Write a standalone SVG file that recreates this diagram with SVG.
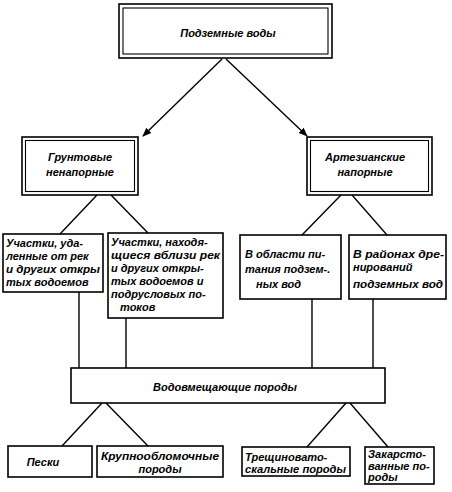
<svg xmlns="http://www.w3.org/2000/svg" width="452" height="492" viewBox="0 0 452 492">
<style>
.b{fill:none;stroke:#000;stroke-width:1.6}
.bi{fill:none;stroke:#000;stroke-width:1.1}
.l{stroke:#000;stroke-width:1.4;fill:none}
text{font-family:"Liberation Sans",Arial,sans-serif;font-style:italic;font-weight:bold;font-size:11px;fill:#000}
.c{text-anchor:middle}
</style>
<defs>
<marker id="ah" viewBox="0 0 10 10" refX="9" refY="5" markerWidth="9" markerHeight="9" markerUnits="userSpaceOnUse" orient="auto">
<path d="M0,1 L10,5 L0,9 Z" fill="#000"/>
</marker>
</defs>
<rect width="452" height="492" fill="#fff"/>
<g id="connectors">
<line class="l" x1="222" y1="59" x2="143" y2="136" marker-end="url(#ah)"/>
<line class="l" x1="226" y1="59" x2="307" y2="136" marker-end="url(#ah)"/>
<line class="l" x1="97" y1="195" x2="60" y2="234"/>
<line class="l" x1="111" y1="195" x2="148" y2="233"/>
<line class="l" x1="341" y1="195" x2="302" y2="235"/>
<line class="l" x1="352" y1="195" x2="387" y2="235"/>
<line class="l" x1="79" y1="292" x2="79" y2="368"/>
<line class="l" x1="126" y1="318" x2="126" y2="368"/>
<line class="l" x1="312" y1="299" x2="312" y2="368"/>
<line class="l" x1="373" y1="299" x2="373" y2="368"/>
<line class="l" x1="102" y1="403" x2="62" y2="446"/>
<line class="l" x1="106" y1="403" x2="148" y2="446"/>
<line class="l" x1="346" y1="403" x2="307" y2="447"/>
<line class="l" x1="350" y1="403" x2="388" y2="447"/>
</g>
<g id="podzemnye">
<rect class="b" x="119" y="4" width="213" height="54"/>
<rect class="bi" x="123" y="8" width="205" height="46"/>
<text class="c" x="228" y="37">Подземные  воды</text>
</g>
<g id="gruntovye">
<rect class="b" x="22" y="137" width="116" height="58"/>
<rect class="bi" x="25.5" y="140.5" width="109" height="51"/>
<text class="c" x="80" y="161">Грунтовые</text>
<text class="c" x="80" y="176">ненапорные</text>
</g>
<g id="artezianskie">
<rect class="b" x="307" y="137" width="125" height="58"/>
<rect class="bi" x="310.5" y="140.5" width="118" height="51"/>
<text class="c" x="365" y="161">Артезианские</text>
<text class="c" x="365" y="176">напорные</text>
</g>
<g id="uchastki1">
<rect class="b" x="3" y="234" width="100" height="58"/>
<text x="6" y="247">Участки, уда-</text>
<text x="6" y="260">ленные от рек</text>
<text x="6" y="273" textLength="94" lengthAdjust="spacingAndGlyphs">и других откры</text>
<text x="6" y="286">тых водоемов</text>
</g>
<g id="uchastki2">
<rect class="b" x="108" y="233" width="115" height="85"/>
<text x="111" y="246">Участки, находя-</text>
<text x="111" y="259" textLength="109" lengthAdjust="spacingAndGlyphs">щиеся вблизи рек</text>
<text x="111" y="272">и других откры-</text>
<text x="111" y="285">тых водоемов и</text>
<text x="111" y="298">подрусловых по-</text>
<text x="120" y="311">токов</text>
</g>
<g id="oblast">
<rect class="b" x="240" y="235" width="101" height="64"/>
<text x="245" y="258">В области пи-</text>
<text x="245" y="273">тания подзем-.</text>
<text x="256" y="288">ных вод</text>
</g>
<g id="rayony">
<rect class="b" x="349" y="235" width="97" height="64"/>
<text x="353" y="258" textLength="91" lengthAdjust="spacingAndGlyphs">В районах дре-</text>
<text x="353" y="271">нирований</text>
<text x="353" y="288" textLength="90" lengthAdjust="spacingAndGlyphs">подземных вод</text>
</g>
<g id="vodovmeshch">
<rect class="b" x="71" y="368" width="314" height="35"/>
<text class="c" x="225" y="391">Водовмещающие   породы</text>
</g>
<g id="peski">
<rect class="b" x="8" y="446" width="84" height="31"/>
<text class="c" x="43" y="466">Пески</text>
</g>
<g id="krupno">
<rect class="b" x="97" y="446" width="126" height="31"/>
<text class="c" x="160" y="460" textLength="118" lengthAdjust="spacingAndGlyphs">Крупнообломочные</text>
<text class="c" x="160" y="473">породы</text>
</g>
<g id="treshch">
<rect class="b" x="242" y="447" width="108" height="29"/>
<text x="245" y="461">Трещиновато-</text>
<text x="245" y="473" textLength="101" lengthAdjust="spacingAndGlyphs">скальные породы</text>
</g>
<g id="zakarst">
<rect class="b" x="365" y="447" width="69" height="37"/>
<text x="368" y="458">Закарсто-</text>
<text x="368" y="470">ванные по-</text>
<text x="368" y="481">роды</text>
</g>
</svg>
